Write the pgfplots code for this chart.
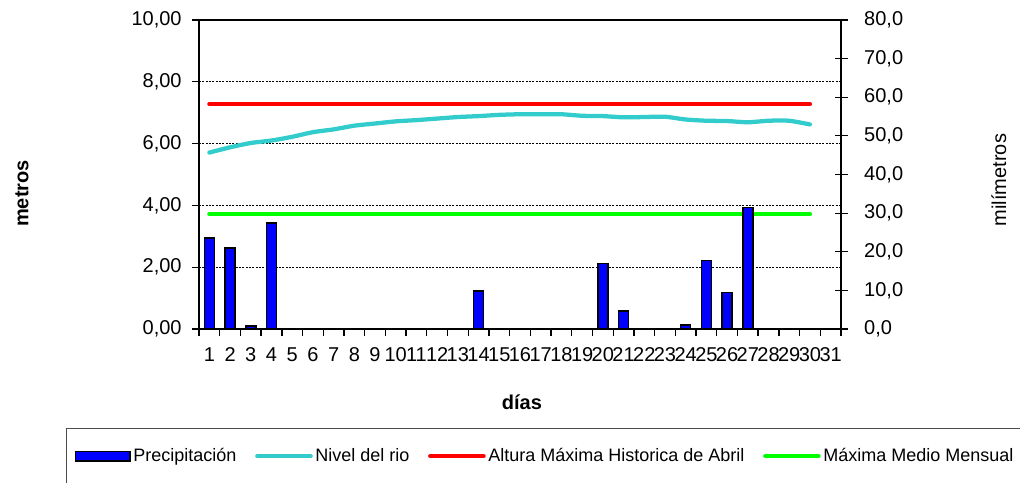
\documentclass[border=0pt]{standalone}
\usepackage{pgfplots}
\pgfplotsset{compat=1.18}
\usepackage{fontspec}
\setmainfont{Liberation Sans}

\definecolor{rio}{RGB}{51,204,204}
\definecolor{precip}{RGB}{0,0,255}
\definecolor{maxabr}{RGB}{255,0,0}
\definecolor{maxmen}{RGB}{0,255,0}

\pgfplotsset{
    lineleg/.style={legend image code/.code={\draw[##1] (0pt,0pt) -- (40pt,0pt);}},
}

% nivel del rio (metros)
\pgfplotstableread{
dia nivel
1 5.71
2 5.88
3 6.02
4 6.10
5 6.22
6 6.37
7 6.46
8 6.58
9 6.65
10 6.72
11 6.76
12 6.81
13 6.86
14 6.89
15 6.93
16 6.95
17 6.95
18 6.95
19 6.90
20 6.89
21 6.85
22 6.86
23 6.87
24 6.78
25 6.74
26 6.73
27 6.69
28 6.74
29 6.74
30 6.62
}\nivel

% precipitacion (milimetros)
\pgfplotstableread{
dia mm
1 23.5
2 21.0
3 0.8
4 27.4
14 9.8
20 17.0
21 4.7
24 1.1
25 17.7
26 9.4
27 31.5
}\lluvia

\begin{document}
\begin{tikzpicture}
\pgfplotsset{
    every axis/.append style={
        scale only axis,
        width=481.5pt, height=231.75pt,
        xmin=0.5, xmax=31.5,
        font=\fontsize{15}{18}\selectfont,
        /pgf/number format/assume math mode=true,
    },
}
\begin{axis}[
    ymin=0, ymax=10,
    ytick={0,2,4,6,8,10},
    yticklabel style={xshift=-4.5pt, /pgf/number format/.cd, fixed, fixed zerofill, precision=2, use comma},
    ymajorgrids,
    major grid style={black, line width=0.5pt, dash pattern=on 1.5pt off 1pt},
    xtick={1,...,31},
    xticklabel={\rule{0pt}{16pt}\pgfmathprintnumber{\tick}},
    major x tick style={draw=none},
    minor xtick={0.5,1.5,...,31.5},
    minor x tick style={black, line width=1pt},
    minor tick length=5pt,
    xtick pos=bottom, ytick pos=left,
    tick align=outside,
    major tick length=5pt,
    tick style={black, line width=1pt},
    axis line style={black, line width=0.8pt},
    ylabel={\bfseries metros},
    ylabel style={at={(axis description cs:-0.2757,0.4385)}, anchor=center},
    xlabel={\bfseries días},
    xlabel style={at={(axis description cs:0.503,-0.236)}, anchor=center},
    legend columns=4,
    legend cell align=left,
    legend style={
        at={(-0.2072,-0.3204)}, anchor=north west,
        draw=black!70, line width=0.8pt,
        font=\fontsize{13.5}{16}\selectfont,
        inner xsep=6pt, inner ysep=13pt,
        /tikz/every even column/.append style={column sep=12pt},
    },
]
\addlegendimage{legend image code/.code={\draw[fill=precip, draw=black, line width=1.2pt] (0pt,-3.5pt) rectangle (41pt,3.5pt);}}
\addlegendentry{Precipitación}
\addplot[rio, line width=3.2pt, line cap=round, smooth, tension=0.4, lineleg]
    table[x=dia, y=nivel] {\nivel};
\addlegendentry{Nivel del rio}
\addplot[maxabr, line width=3.2pt, line cap=round, lineleg]
    coordinates {(1,7.28) (30,7.28)};
\addlegendentry{Altura Máxima Historica de Abril}
\addplot[maxmen, line width=3.2pt, line cap=round, lineleg]
    coordinates {(1,3.72) (30,3.72)};
\addlegendentry{Máxima Medio Mensual}
\end{axis}

\begin{axis}[
    axis x line=none,
    axis y line*=right,
    ymin=0, ymax=80,
    ytick={0,10,20,30,40,50,60,70,80},
    yticklabel style={xshift=9pt, /pgf/number format/.cd, fixed, fixed zerofill, precision=1, use comma},
    tick align=center,
    major tick length=9.75pt,
    tick style={black, line width=0.8pt},
    axis line style={black, line width=0.8pt},
    ylabel={milímetros},
    ylabel style={at={(axis description cs:1.246,0.482)}, anchor=center},
]
\addplot[ybar, bar width=7.5pt, fill=precip, draw=black, line width=1.2pt]
    table[x=dia, y=mm] {\lluvia};
\end{axis}
\pgfresetboundingbox
\path[use as bounding box] (-149.25pt,-114.75pt) rectangle (615.75pt,246.75pt);
\end{tikzpicture}
\end{document}
